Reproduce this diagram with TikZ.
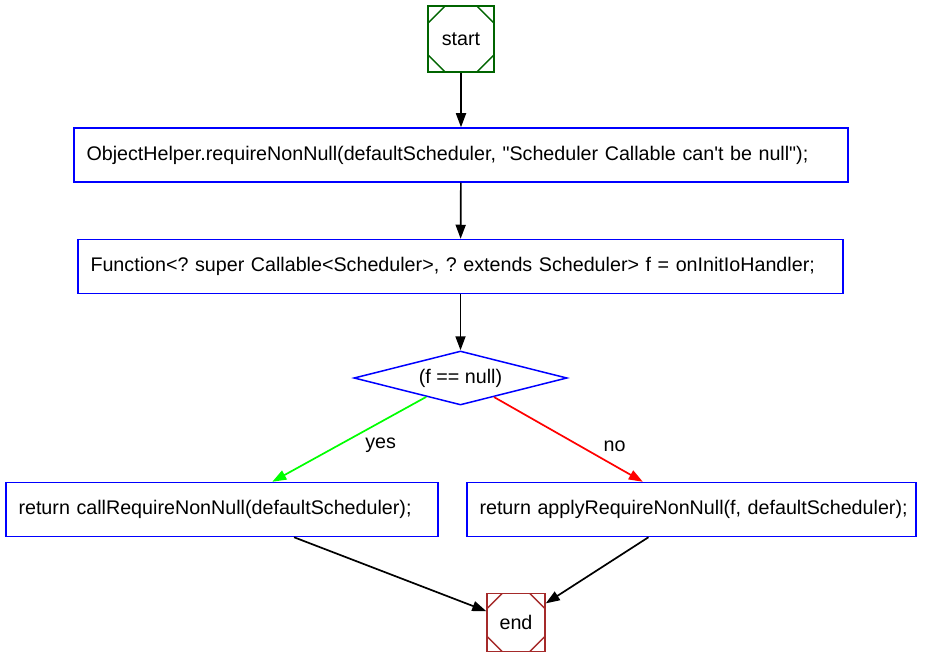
\documentclass[tikz,border=0pt]{standalone}
\usepackage{fontspec}
\setmainfont{Liberation Sans}
\usetikzlibrary{arrows.meta,shapes.geometric}
\frenchspacing
\tikzset{
	stmt/.style={draw=blue, line width=1.5pt, minimum height=54pt, inner xsep=12.5pt, align=left},
	msq/.style={draw, line width=1.5pt, minimum size=#1, inner sep=0pt,
		path picture={
			\foreach \c/\sx/\sy in {north west/1/-1, north east/-1/-1, south west/1/1, south east/-1/1}
			\draw[line width=1.5pt] ([xshift=\sx*0.26*#1]path picture bounding box.\c) -- ([yshift=\sy*0.26*#1]path picture bounding box.\c);
		}},
	flow/.style={line width=1.7pt, -{Triangle[length=14pt,width=10pt]}},
	lbl/.style={text=black, anchor=west, pos=0.54}
}
\begin{document}
\begin{tikzpicture}[x=1pt, y=-1pt, font=\fontsize{19.7}{23}\selectfont]
			\useasboundingbox (0,0) rectangle (941,660);
			\node[msq=66pt, draw={rgb,255:red,0;green,100;blue,0}] (start) at (461,39) {start};
			\node[stmt, text width=749pt] (req) at (461,155) {\mbox{ObjectHelper.requireNonNull(defaultScheduler, \textquotedbl Scheduler Callable can\textquotesingle t be null\textquotedbl);}};
			\node[stmt, text width=740pt] (fun) at (460.5,266.5) {\mbox{Function<? super Callable<Scheduler>, ? extends Scheduler> f = onInitIoHandler;}};
			\node[draw=blue, line width=1.5pt, diamond, aspect=3.94, inner sep=0pt, minimum width=213pt, minimum height=54pt] (test) at (460.5,378) {(f == null)};
			\node[stmt, text width=407pt] (call) at (222,509.5) {\mbox{return callRequireNonNull(defaultScheduler);}};
			\node[stmt, text width=424pt] (apply) at (691.5,509.5) {\mbox{return applyRequireNonNull(f, defaultScheduler);}};
			\node[msq=58pt, draw={rgb,255:red,165;green,42;blue,42}] (end) at (516,622.5) {end};
			\path[flow]
			(start) edge (req)
			(req) edge (fun)
			(fun) edge (test)
			(test) edge[green] node[lbl, xshift=18pt, yshift=-3pt] {yes} (call)
			edge[red] node[lbl, xshift=25pt, yshift=-3pt] {no} (apply)
			(call) edge (end)
			(apply) edge (end);
		\end{tikzpicture}
\end{document}
